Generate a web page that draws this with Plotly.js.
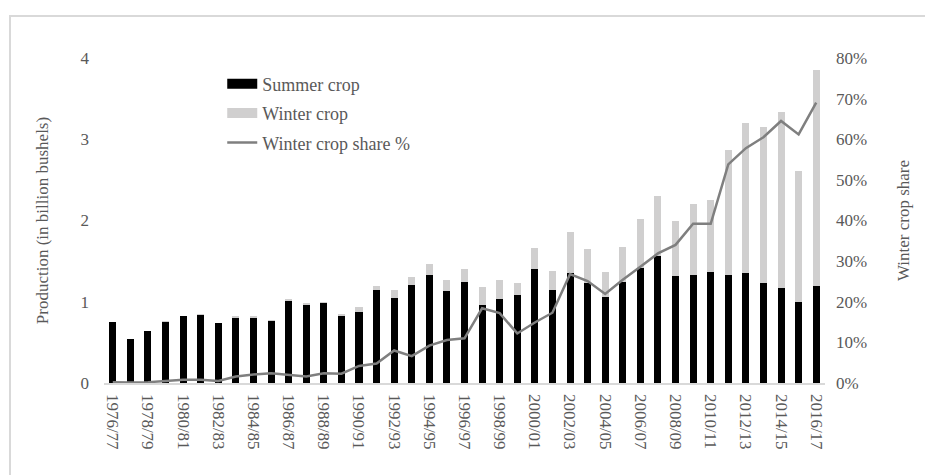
<!DOCTYPE html>
<html>
<head>
<meta charset="utf-8">
<script src="https://cdn.plot.ly/plotly-3.0.1.min.js"></script>
<style>
html,body{margin:0;padding:0;background:#fff;}
#frame{position:absolute;left:9px;top:15px;width:1000px;height:1000px;border:2px solid #d9d9d9;box-sizing:border-box;}
#chart{position:absolute;left:0;top:0;width:925px;height:475px;}
</style>
</head>
<body>
<div id="frame"></div>
<div id="chart"></div>
<script>
const seasons = ["1976/77","1977/78","1978/79","1979/80","1980/81","1981/82","1982/83","1983/84","1984/85","1985/86",
"1986/87","1987/88","1988/89","1989/90","1990/91","1991/92","1992/93","1993/94","1994/95","1995/96",
"1996/97","1997/98","1998/99","1999/00","2000/01","2001/02","2002/03","2003/04","2004/05","2005/06",
"2006/07","2007/08","2008/09","2009/10","2010/11","2011/12","2012/13","2013/14","2014/15","2015/16","2016/17"];
const summerCrop = [0.75,0.54,0.64,0.75,0.82,0.84,0.74,0.80,0.80,0.76,
1.01,0.96,0.98,0.83,0.88,1.14,1.05,1.21,1.33,1.13,
1.24,0.96,1.04,1.08,1.40,1.14,1.35,1.23,1.06,1.24,
1.42,1.56,1.32,1.33,1.37,1.33,1.35,1.23,1.17,1.00,1.19];
const winterCrop = [0.00,0.00,0.00,0.01,0.01,0.01,0.00,0.02,0.02,0.02,
0.02,0.02,0.02,0.02,0.05,0.06,0.09,0.09,0.13,0.14,
0.16,0.22,0.23,0.15,0.26,0.24,0.51,0.42,0.31,0.43,
0.60,0.74,0.68,0.87,0.88,1.54,1.85,1.92,2.17,1.61,2.66];
const winterShare = [0.002,0.001,0.002,0.005,0.008,0.008,0.005,0.016,0.021,0.024,
0.020,0.016,0.024,0.023,0.042,0.048,0.080,0.066,0.092,0.106,
0.110,0.184,0.172,0.122,0.149,0.173,0.268,0.251,0.219,0.254,
0.286,0.319,0.340,0.392,0.392,0.538,0.578,0.605,0.645,0.612,0.690];
const tickLabels = seasons.filter((s,i)=>i%2===0);

const summerColor = "#000000", winterColor = "#d0cfcf", shareColor = "#7f7f7f";
const font = {family:"Liberation Serif, 'Times New Roman', serif", size:17, color:"#595959"};
const legendFont = {family:"Liberation Serif, 'Times New Roman', serif", size:18, color:"#595959"};

const traces = [
  {type:"bar", name:"Summer crop", x:seasons, y:summerCrop, marker:{color:summerColor}, showlegend:false},
  {type:"bar", name:"Winter crop", x:seasons, y:winterCrop, marker:{color:winterColor}, showlegend:false},
  {type:"scatter", mode:"lines", name:"Winter crop share %", x:seasons, y:winterShare, yaxis:"y2",
   line:{color:shareColor, width:2.5}, showlegend:false},
  // legend proxies (wide rectangle keys like the original)
  {type:"scatter", mode:"lines", name:"Summer crop", x:[null], y:[null], line:{color:summerColor, width:10}, legendgroup:"a"},
  {type:"scatter", mode:"lines", name:"Winter crop", x:[null], y:[null], line:{color:winterColor, width:10}, legendgroup:"b"},
  {type:"scatter", mode:"lines", name:"Winter crop share %", x:[null], y:[null], yaxis:"y2", line:{color:shareColor, width:2.5}, legendgroup:"c"}
];

const layout = {
  width:925, height:475,
  margin:{l:104, r:100, t:58, b:92},
  paper_bgcolor:"rgba(0,0,0,0)", plot_bgcolor:"rgba(0,0,0,0)",
  barmode:"stack", bargap:0.6,
  font:font,
  showlegend:true,
  legend:{x:0.164, y:0.977, xanchor:"left", yanchor:"top", traceorder:"grouped",
    bgcolor:"rgba(0,0,0,0)", font:legendFont, tracegroupgap:3},
  xaxis:{type:"category", tickangle:90, tickmode:"array",
    tickvals:tickLabels, ticktext:tickLabels,
    showline:true, linecolor:"#d9d9d9", linewidth:1.5, ticks:"", showgrid:false,
    tickfont:font, ticklabelstandoff:6, automargin:false},
  yaxis:{range:[0,4], dtick:1, showgrid:false, zeroline:false, showline:false,
    ticks:"", tickfont:font, ticklabelstandoff:14,
    title:{text:"Production (in billion bushels)", font:font, standoff:27}, automargin:false},
  yaxis2:{overlaying:"y", side:"right", range:[0,0.8], dtick:0.1, tickformat:".0%",
    showgrid:false, zeroline:false, showline:false, ticks:"", tickfont:font, ticklabelstandoff:10,
    title:{text:"Winter crop share", font:font, standoff:30}, automargin:false}
};

Plotly.newPlot("chart", traces, layout, {displayModeBar:false, staticPlot:true});
</script>
</body>
</html>
